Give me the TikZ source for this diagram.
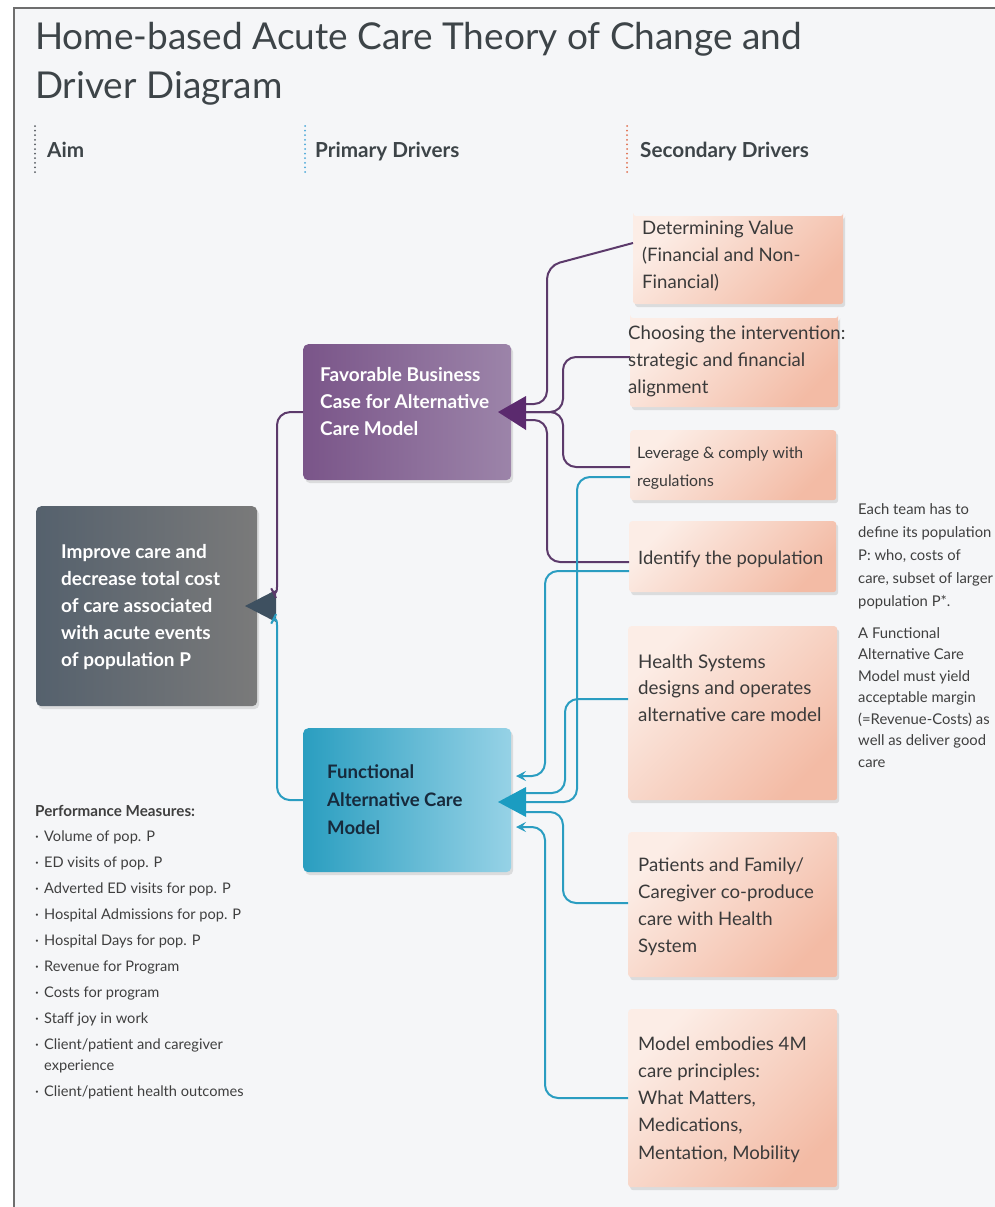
\documentclass[tikz,border=0pt]{standalone}
\usepackage{fontspec}
\setmainfont{Lato}
\usetikzlibrary{shadows,shapes.misc,arrows.meta}

\definecolor{pagebg}{HTML}{F5F6F8}
\definecolor{framegray}{HTML}{6E6E6E}
\definecolor{titlegray}{HTML}{3D4448}
\definecolor{aimL}{HTML}{55616D}
\definecolor{aimR}{HTML}{7A7A7A}
\definecolor{favL}{HTML}{7A5589}
\definecolor{favR}{HTML}{9C84A9}
\definecolor{facmL}{HTML}{2A9EC0}
\definecolor{facmR}{HTML}{96D2E6}
\definecolor{peachL}{HTML}{FCEDE6}
\definecolor{peachD}{HTML}{F3BBA5}
\definecolor{plum}{HTML}{5C3A6B}
\definecolor{plumTri}{HTML}{5B2A6E}
\definecolor{teal}{HTML}{2A9DC1}
\definecolor{tealTri}{HTML}{1B9CC1}
\definecolor{slate}{HTML}{3E5060}
\definecolor{navy}{HTML}{172A3C}
\definecolor{bodytext}{HTML}{3A3A3A}
\definecolor{notetext}{HTML}{3F3F3F}
\definecolor{dotAim}{HTML}{555A60}
\definecolor{dotPrim}{HTML}{4AA8D8}
\definecolor{dotSec}{HTML}{E0704F}

% lines of text whose baseline is that of the first line
\newcommand{\tlines}[1]{\begin{tabular}[t]{@{}l@{}}#1\end{tabular}}

\begin{document}
\begin{tikzpicture}[x=1pt,y=-1pt,
  boxbase/.style={rectangle, rounded corners=5pt, inner sep=0pt, anchor=north west,
    drop shadow={opacity=0.22, shadow xshift=2pt, shadow yshift=-3pt}},
  aimbox/.style={boxbase, left color=aimL, right color=aimR},
  favbox/.style={boxbase, left color=favL, right color=favR},
  facmbox/.style={boxbase, left color=facmL, right color=facmR},
  peachbox/.style={boxbase, rounded corners=3pt, top color=peachL, bottom color=peachD, shading angle=45},
  cutbox/.style={peachbox, chamfered rectangle, chamfered rectangle corners=north east,
    chamfered rectangle sep=12pt},
  primtext/.style={anchor=base west, inner sep=0pt,
    font=\fontsize{19}{27}\selectfont\bfseries},
  sectext/.style={anchor=base west, inner sep=0pt, text=bodytext,
    font=\fontsize{18.6}{27.3}\selectfont},
  notetxt/.style={anchor=base west, inner sep=0pt, text=notetext,
    font=\fontsize{14.8}{21.5}\selectfont},
  header/.style={anchor=base west, inner sep=0pt, text=titlegray,
    font=\fontsize{20.7}{24}\selectfont\bfseries},
  dotline/.style={line width=2pt, line cap=round, dash pattern=on 0pt off 4.6pt},
  pline/.style={draw=plum, line width=2pt, rounded corners=13pt},
  tline/.style={draw=teal, line width=2pt, rounded corners=13pt},
  smallhead/.style={-{Stealth[length=10pt,width=10pt,inset=4pt]}},
]
% page and frame
\useasboundingbox (0,0) rectangle (995,1207);
\fill[white] (0,0) rectangle (995,1207);
\fill[pagebg] (14,8) rectangle (995,1207);
\draw[framegray, line width=2pt] (14,1207) -- (14,8) -- (995,8);

% title
\node[anchor=base west, inner sep=0pt, text=titlegray,
  font=\fontsize{37}{49}\selectfont] (title) at (35,49)
  {\tlines{Home-based Acute Care Theory of Change and\\Driver Diagram}};

% column headers
\draw[dotline, dotAim] (35,126) -- (35,172);
\draw[dotline, dotPrim] (305,126) -- (305,172);
\draw[dotline, dotSec] (627,126) -- (627,172);
\node[header] (hAim) at (47,157) {Aim};
\node[header] (hPrim) at (315,157) {Primary Drivers};
\node[header] (hSec) at (640,157) {Secondary Drivers};

% aim and primary drivers
\node[aimbox, minimum width=221pt, minimum height=200pt] (aim) at (36,506) {};
\node[primtext, text=white] (aimT) at (61,558)
  {\tlines{Improve care and\\decrease total cost\\of care associated\\with acute events\\of population P}};
\node[favbox, minimum width=208pt, minimum height=136pt] (fav) at (303,344) {};
\node[primtext, text=white] (favT) at (320,381)
  {\tlines{Favorable Business\\Case for Alternative\\Care Model}};
\node[facmbox, minimum width=208pt, minimum height=144pt] (facm) at (303,728) {};
\node[primtext, text=navy, font=\fontsize{18.6}{28}\selectfont\bfseries] (facmT) at (327,778)
  {\tlines{Functional\\Alternative Care\\Model}};

% secondary drivers
\node[cutbox, minimum width=210pt, minimum height=88pt] (s1) at (633,216) {};
\node[sectext] (s1T) at (642,234) {\tlines{Determining Value\\(Financial and Non-\\Financial)}};
\node[cutbox, minimum width=208pt, minimum height=89pt] (s2) at (630,318) {};
\node[sectext] (s2T) at (628,339) {\tlines{Choosing the intervention:\\strategic and financial\\alignment}};
\node[peachbox, minimum width=206pt, minimum height=70pt] (s3) at (630,430) {};
\node[sectext, font=\fontsize{15.8}{28}\selectfont] (s3T) at (637,458) {\tlines{Leverage \& comply with\\regulations}};
\node[peachbox, minimum width=207pt, minimum height=71pt] (s4) at (629,521) {};
\node[sectext, font=\fontsize{18.4}{27}\selectfont] (s4T) at (638,564) {Identify the population};
\node[peachbox, minimum width=209pt, minimum height=174pt] (s5) at (628,626) {};
\node[sectext, font=\fontsize{18.8}{26.5}\selectfont] (s5T) at (638,668) {\tlines{Health Systems\\designs and operates\\alternative care model}};
\node[peachbox, minimum width=209pt, minimum height=145pt] (s6) at (628,832) {};
\node[sectext] (s6T) at (638,871) {\tlines{Patients and Family/\\Caregiver co-produce\\care with Health\\System}};
\node[peachbox, minimum width=209pt, minimum height=178pt] (s7) at (628,1009) {};
\node[sectext] (s7T) at (638,1050) {\tlines{Model embodies 4M\\care principles:\\What Matters,\\Medications,\\Mentation, Mobility}};

% side notes
\node[notetxt, font=\fontsize{14.8}{23}\selectfont] (note1) at (858,514)
  {\tlines{Each team has to\\define its population\\P: who, costs of\\care, subset of larger\\population P*.}};
\node[notetxt] (note2) at (858,638)
  {\tlines{A Functional\\Alternative Care\\Model must yield\\acceptable margin\\(=Revenue-Costs) as\\well as deliver good\\care}};

% performance measures
\node[anchor=base west, inner sep=0pt, text=notetext,
  font=\fontsize{15.2}{20}\selectfont\bfseries] (pmHead) at (35,816) {Performance Measures:};
\node[anchor=base west, inner sep=0pt, text=notetext,
  font=\fontsize{14.6}{21}\selectfont] (pmList) at (35,841)
  {\tlines{\makebox[9pt][l]{·}Volume of pop. P\\[5pt]
   \makebox[9pt][l]{·}ED visits of pop. P\\[5pt]
   \makebox[9pt][l]{·}Adverted ED visits for pop. P\\[5pt]
   \makebox[9pt][l]{·}Hospital Admissions for pop. P\\[5pt]
   \makebox[9pt][l]{·}Hospital Days for pop. P\\[5pt]
   \makebox[9pt][l]{·}Revenue for Program\\[5pt]
   \makebox[9pt][l]{·}Costs for program\\[5pt]
   \makebox[9pt][l]{·}Staff joy in work\\[5pt]
   \makebox[9pt][l]{·}Client/patient and caregiver\\
   \makebox[9pt][l]{}experience\\[5pt]
   \makebox[9pt][l]{·}Client/patient health outcomes}};

% arrow heads at the primary and aim boxes
\coordinate (aimA) at (276,598);
\coordinate (aimB) at (276,614);
\fill[slate] (245,606) -- (276,590) -- (276,622) -- cycle;
\coordinate (favA) at (526,404);
\coordinate (favM) at (526,412);
\coordinate (favB) at (526,420);
\fill[plumTri] (498,412) -- (526,396) -- (526,430) -- cycle;
\coordinate (facA) at (526,793);
\coordinate (facM) at (526,802);
\coordinate (facB) at (526,812);
\fill[tealTri] (498,802) -- (526,787) -- (526,817) -- cycle;
\coordinate (facUp) at (516,776);
\coordinate (facLow) at (516,827);

% primary drivers to aim
\draw[pline] (fav.west) -- (277,412) -- (277,600) -- (aimA);
\draw[tline] (facm.west) -- (277,800) -- (277,612) -- (aimB);

% secondary drivers to the business case
\draw[pline] (s1.west |- 0,243) -- (547,266) -- (547,404) -- (favA);
\draw[pline] (s2.west |- 0,357) -- (563,357) -- (563,412) -- (favM);
\draw[pline] (s3.west |- 0,467) -- (563,467) -- (563,412) -- (favM);
\draw[pline] (s4.west |- 0,562) -- (547,562) -- (547,420) -- (favB);

% secondary drivers to the care model
\draw[tline] (s3.west |- 0,477) -- (577,477) -- (577,802) -- (facM);
\draw[tline, smallhead] (s4.west |- 0,571) -- (545,571) -- (545,776) -- (facUp);
\draw[tline] (s5.west |- 0,699) -- (565,699) -- (565,793) -- (facA);
\draw[tline] (s6.west |- 0,903) -- (563,903) -- (563,812) -- (facB);
\draw[tline, smallhead] (s7.west |- 0,1098) -- (545,1098) -- (545,827) -- (facLow);
\end{tikzpicture}
\end{document}
